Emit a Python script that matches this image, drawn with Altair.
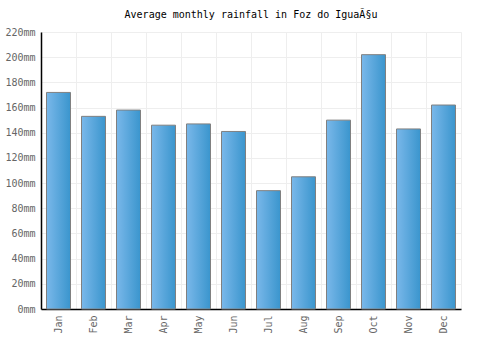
import altair as alt
import pandas as pd

months = ["Jan", "Feb", "Mar", "Apr", "May", "Jun", "Jul", "Aug", "Sep", "Oct", "Nov", "Dec"]
rainfall = [172, 153, 158, 146, 147, 141, 94, 105, 150, 202, 143, 162]
y_ticks = [0, 20, 40, 60, 80, 100, 120, 140, 160, 180, 200, 220]

df = pd.DataFrame({"month": months, "rain": rainfall})

FONT = "DejaVu Sans Mono"

chart = alt.Chart(df).mark_bar(
    size=24,
    stroke="#808080",
    strokeWidth=1,
    color=alt.Gradient(
        gradient="linear",
        x1=0, x2=1, y1=0, y2=0,
        stops=[alt.GradientStop(color="#7ab8ea", offset=0),
               alt.GradientStop(color="#3a95cd", offset=1)],
    ),
).encode(
    x=alt.X("month:N", sort=months, title=None,
            scale=alt.Scale(paddingInner=0, paddingOuter=0),
            axis=alt.Axis(labelAngle=270, labelFont=FONT, labelFontSize=10,
                          labelColor="#666666", grid=True, bandPosition=0,
                          gridColor="#eeeeee", domainColor="#000000",
                          domainWidth=1.5,
                          ticks=False, labelPadding=6, labelAlign="right",
                          labelBaseline="middle")),
    y=alt.Y("rain:Q", title=None,
            scale=alt.Scale(domain=[0, 220], nice=False),
            axis=alt.Axis(values=y_ticks, labelExpr="datum.value + 'mm'",
                          labelFont=FONT, labelFontSize=10, labelColor="#666666",
                          gridColor="#eeeeee", domainColor="#000000",
                          domainWidth=1.5,
                          ticks=False, labelPadding=6)),
).properties(
    width=420,
    height=277,
    title=alt.TitleParams("Average monthly rainfall in Foz do IguaÃ§u",
                          font=FONT, fontSize=10, fontWeight="normal",
                          color="#000000", anchor="middle", offset=7),
    autosize=alt.AutoSizeParams(type="none"),
    padding={"left": 41, "top": 32, "right": 39, "bottom": 41},
).configure_view(stroke="#eeeeee")

chart.save("out.html", embed_options={"renderer": "svg", "actions": False})
